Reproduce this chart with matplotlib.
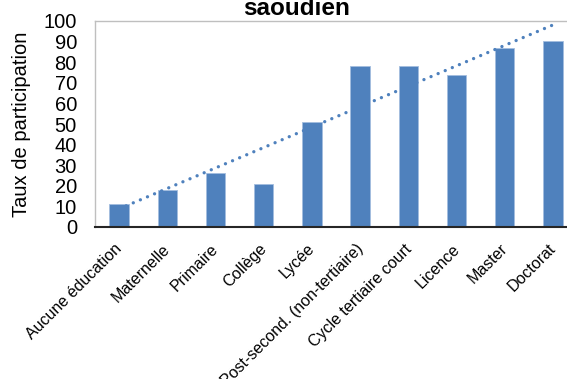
import numpy as np
import matplotlib
matplotlib.use("Agg")
import matplotlib.pyplot as plt
from matplotlib.transforms import ScaledTranslation

plt.rcParams['font.family'] = ['Liberation Sans', 'DejaVu Sans']

# Participation rate by education level
categories = ["Aucune éducation", "Maternelle", "Primaire", "Collège", "Lycée",
              "Post-second. (non-tertiaire)", "Cycle tertiaire court",
              "Licence", "Master", "Doctorat"]
rates = [11, 18, 26, 21, 51, 78, 78, 74, 87, 90.5]
y_ticks = [0, 10, 20, 30, 40, 50, 60, 70, 80, 90, 100]

bar_color = "#4F81BD"
W, H = 567, 379
fig = plt.figure(figsize=(W / 100, H / 100), dpi=100)

# plot area: left edge at 95 px, x-axis at 227 px, top at 21 px
left, right = 95, 577
top, bottom = 21, 227
ax = fig.add_axes([left / W, 1 - bottom / H, (right - left) / W, (bottom - top) / H])

x = np.arange(1, len(categories) + 1)
ax.bar(x, rates, width=0.4, color=bar_color, edgecolor="#A3BDDF", linewidth=0.6, zorder=2)

# linear trendline across the categories
slope, intercept = np.polyfit(x, rates, 1)
xt = np.array([x[0], x[-1]], dtype=float)
ax.plot(xt, slope * xt + intercept, color=bar_color, lw=2.4,
        linestyle=(0, (0.01, 2.3)), dash_capstyle="round", zorder=3)

ax.set_xlim(0.5, len(categories) + 0.5)
ax.set_ylim(0, 100)
ax.set_yticks(y_ticks)
ax.set_yticklabels([str(t) for t in y_ticks], fontsize=14.5, color="black")
ax.tick_params(axis="y", length=0, pad=13)
ax.set_xticks(x)
ax.set_xticklabels(categories, fontsize=11.5, rotation=45, ha="right",
                   rotation_mode="anchor", va="center")
ax.tick_params(axis="x", length=0, pad=14)
offset = ScaledTranslation(0.5 / 72, 0, fig.dpi_scale_trans)
for lab in ax.get_xticklabels():
    lab.set_transform(lab.get_transform() + offset)

for side in ("left", "top"):
    ax.spines[side].set_color("#BFBFBF")
    ax.spines[side].set_linewidth(1.0)
ax.spines["right"].set_visible(False)
ax.spines["bottom"].set_color("#262626")
ax.spines["bottom"].set_linewidth(1.5)
ax.spines["bottom"].set_zorder(4)

fig.text(21.5 / W, 1 - 124 / H, "Taux de participation", rotation=90,
         ha="center", va="center", fontsize=14.5)
fig.text(297 / W, 1 - 15 / H, "saoudien", ha="center", va="baseline",
         fontsize=17.5, fontweight="bold")

fig.savefig("out.png", dpi=100)
